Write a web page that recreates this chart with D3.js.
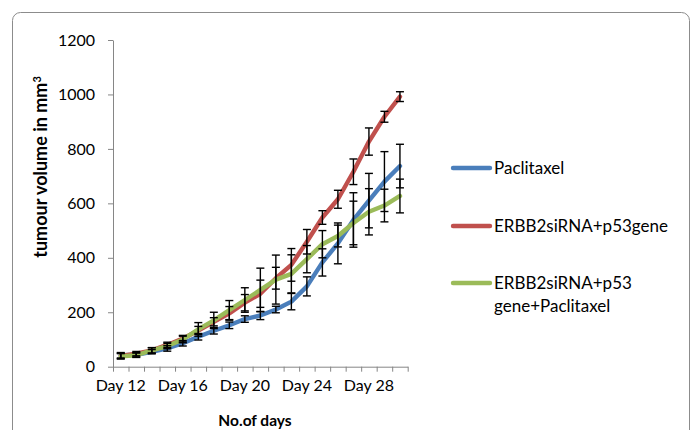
<!DOCTYPE html>
<meta charset="utf-8">
<title>tumour volume</title>
<head>
<style>
body { margin: 0; background: #fff; }
svg text { font-family: Lato, "Open Sans", sans-serif; fill: #000; }
.axis path, .axis line { stroke: #868686; }
.errbar { stroke: #000; stroke-width: 1.4; }
.series { fill: none; stroke-width: 4.4; stroke-linejoin: round; stroke-linecap: round; }
</style>
</head>
<body>
<div id="chart"></div>
<script src="https://cdn.jsdelivr.net/npm/d3@7"></script>
<script>
// days 12..30
var days = d3.range(12, 31);
var dayLabels = ["Day 12", "Day 16", "Day 20", "Day 24", "Day 28"];
var yTicks = [0, 200, 400, 600, 800, 1000, 1200];

var seriesNames = ["Paclitaxel", "ERBB2siRNA+p53gene", "ERBB2siRNA+p53 gene+Paclitaxel"];
var seriesColors = ["#4a7ebb", "#c0504d", "#9bbb59"];

var paclitaxel = [42, 44, 55, 67, 86, 110, 132, 152, 175, 188, 210, 239, 295, 383, 453, 539, 610, 680, 737];
var paclitaxelErr = [10, 8, 8, 10, 10, 12, 12, 12, 12, 15, 12, 30, 35, 50, 75, 100, 100, 110, 80];

var sirnaP53 = [40, 48, 60, 80, 103, 133, 165, 196, 235, 268, 325, 374, 459, 548, 615, 716, 827, 918, 992];
var sirnaP53Err = [10, 8, 10, 10, 12, 15, 15, 25, 30, 50, 40, 60, 45, 25, 33, 47, 50, 20, 18];

var combo = [38, 42, 60, 76, 100, 137, 170, 208, 245, 282, 320, 341, 395, 450, 480, 528, 569, 592, 627];
var comboErr = [10, 8, 10, 10, 12, 25, 30, 35, 45, 80, 90, 70, 50, 50, 40, 80, 85, 60, 62];

var values = [paclitaxel, sirnaP53, combo];
var errors = [paclitaxelErr, sirnaP53Err, comboErr];

var W = 694, H = 430;
var svg = d3.select("#chart").append("svg")
    .attr("width", W)
    .attr("height", H);

// outer frame
svg.append("rect")
    .attr("x", 12.5).attr("y", 12.5)
    .attr("width", 677).attr("height", 440)
    .attr("rx", 8)
    .style("fill", "none")
    .style("stroke", "#8c8c8c");

var x = d3.scaleLinear().domain([0, days.length]).range([113, 407.7]);
var y = d3.scaleLinear().domain([0, 1200]).range([366.7, 40]);

var yAxis = svg.append("g")
    .attr("class", "axis")
    .attr("transform", "translate(113,0)")
    .call(d3.axisLeft(y).tickValues(yTicks).tickSize(5).tickSizeOuter(0).tickPadding(13).tickFormat(d3.format("d")));
yAxis.selectAll("text").style("font-size", "16px");

var xAxis = svg.append("g")
    .attr("class", "axis")
    .attr("transform", "translate(0," + y(0) + ")")
    .call(d3.axisBottom(x).tickValues(d3.range(days.length + 1)).tickSize(5).tickSizeOuter(0).tickFormat(""));

svg.append("g").selectAll("text")
    .data(dayLabels)
  .enter().append("text")
    .attr("x", function(d) { return x(days.indexOf(+d.slice(4)) + 0.5); })
    .attr("y", 391)
    .attr("text-anchor", "middle")
    .style("font-size", "16px")
    .text(function(d) { return d; });

var line = d3.line()
    .x(function(d, i) { return x(i + 0.5); })
    .y(function(d) { return y(d); });

values.forEach(function(v, s) {
  svg.append("path")
      .datum(v)
      .attr("class", "series")
      .attr("d", line)
      .style("stroke", seriesColors[s]);
});

// error bars on top
values.forEach(function(v, s) {
  var g = svg.append("g").attr("class", "errbar");
  v.forEach(function(val, i) {
    var cx = x(i + 0.5), e = errors[s][i];
    g.append("line").attr("x1", cx).attr("x2", cx).attr("y1", y(val + e)).attr("y2", y(val - e));
    g.append("line").attr("x1", cx - 4).attr("x2", cx + 4).attr("y1", y(val + e)).attr("y2", y(val + e));
    g.append("line").attr("x1", cx - 4).attr("x2", cx + 4).attr("y1", y(val - e)).attr("y2", y(val - e));
  });
});

// axis titles
svg.append("text")
    .attr("transform", "translate(47,167) rotate(-90)")
    .attr("text-anchor", "middle")
    .style("font-size", "18px")
    .style("font-weight", "bold")
    .text("tumour volume in mm")
  .append("tspan")
    .attr("dy", -6)
    .style("font-size", "11px")
    .text("3");

svg.append("text")
    .attr("x", 255)
    .attr("y", 426)
    .attr("text-anchor", "middle")
    .style("font-size", "15.5px")
    .style("font-weight", "bold")
    .text("No.of days");

// legend
var legendY = [168, 226, 283];
var legend = svg.append("g");
seriesNames.forEach(function(name, s) {
  legend.append("line")
      .attr("x1", 453).attr("x2", 490)
      .attr("y1", legendY[s]).attr("y2", legendY[s])
      .style("stroke", seriesColors[s])
      .style("stroke-width", 4.4)
      .style("stroke-linecap", "round");
  var t = legend.append("text")
      .attr("x", 494)
      .attr("y", legendY[s] + 6)
      .style("font-size", "17px");
  var parts = s === 2 ? ["ERBB2siRNA+p53", "gene+Paclitaxel"] : [name];
  parts.forEach(function(p, k) {
    t.append("tspan").attr("x", 494).attr("dy", k === 0 ? 0 : 22.5).text(p);
  });
});
</script>
</body>
</html>
